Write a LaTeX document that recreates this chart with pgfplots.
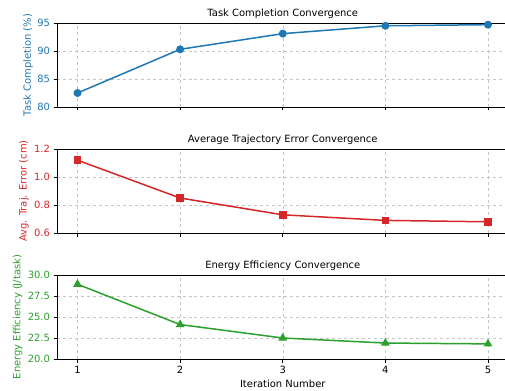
\documentclass[border=0pt]{standalone}
\usepackage{pgfplots}
\pgfplotsset{compat=1.18}
\usepackage{fontspec}
\setmainfont{DejaVu Sans}
\definecolor{cblue}{HTML}{1F77B4}
\definecolor{cred}{HTML}{D62728}
\definecolor{cgreen}{HTML}{2CA02C}
\newcommand{\fs}{\fontsize{10}{12}\selectfont}
\pgfplotsset{
  base/.style={
    width=451.5bp, height=84bp, scale only axis,
    xmin=0.8, xmax=5.2, xtick={1,2,3,4,5},
    grid=major, grid style={dashed, gray!45, line width=0.5bp},
    tick align=outside, tick pos=left,
    major tick length=3.5bp,
    axis line style={line width=0.8bp},
    every tick/.style={black, line width=0.8bp},
    tick label style={font=\fs},
    label style={font=\fs},
    title style={font=\fs, yshift=-5.5bp},
    /pgf/number format/assume math mode=true,
  },
}
\begin{document}
\begin{tikzpicture}[x=1bp,y=1bp]
\useasboundingbox (0,0) rectangle (505,390);
\begin{axis}[base, at={(57bp,283bp)}, anchor=south west,
  ymin=80, ymax=95, ytick={80,85,90,95},
  xticklabels={},
  title={Task Completion Convergence},
  ylabel={Task Completion (\%)},
  ylabel style={text=cblue, yshift=-2.5bp}, yticklabel style={text=cblue}]
\addplot[cblue, line width=1.5bp, mark=*, mark size=3.2bp, mark options={solid}] coordinates {
(1,82.5) (2,90.3) (3,93.1) (4,94.5) (5,94.7)};
\end{axis}
\begin{axis}[base, at={(57bp,157bp)}, anchor=south west,
  ymin=0.6, ymax=1.2, ytick={0.6,0.8,1.0,1.2},
  yticklabel style={text=cred, /pgf/number format/.cd, fixed, fixed zerofill, precision=1},
  xticklabels={},
  title={Average Trajectory Error Convergence},
  ylabel={Avg. Traj. Error (cm)},
  ylabel style={text=cred, yshift=-1.5bp}]
\addplot[cred, line width=1.5bp, mark=square*, mark size=3bp, mark options={solid}] coordinates {
(1,1.12) (2,0.85) (3,0.73) (4,0.69) (5,0.68)};
\end{axis}
\begin{axis}[base, at={(57bp,31bp)}, anchor=south west,
  ymin=20, ymax=30, ytick={20,22.5,25,27.5,30},
  yticklabel style={text=cgreen, /pgf/number format/.cd, fixed, fixed zerofill, precision=1},
  title={Energy Efficiency Convergence},
  xlabel={Iteration Number},
  ylabel={Energy Efficiency (J/task)},
  ylabel style={text=cgreen, yshift=-1.5bp}]
\addplot[cgreen, line width=1.5bp, mark=triangle*, mark size=3.6bp, mark options={solid}] coordinates {
(1,28.9) (2,24.1) (3,22.5) (4,21.9) (5,21.8)};
\end{axis}
\end{tikzpicture}
\end{document}
